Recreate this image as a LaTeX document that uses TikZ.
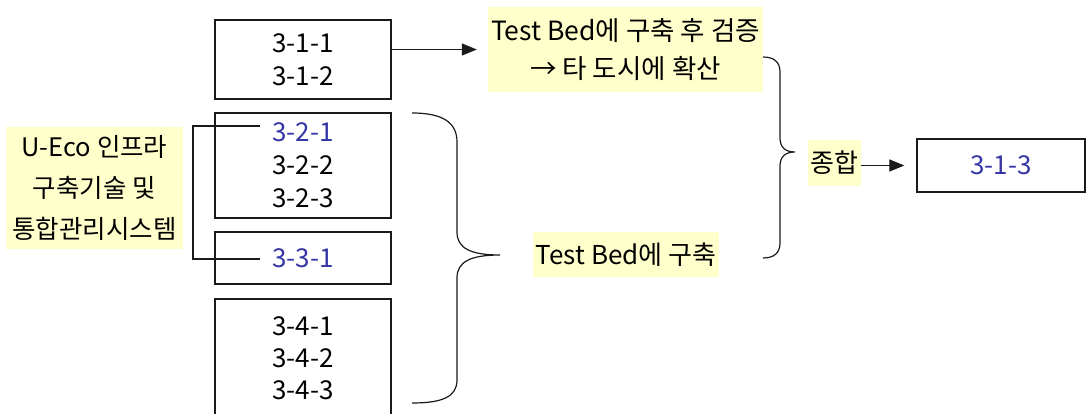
\documentclass[tikz,border=0pt]{standalone}
\usepackage{fontspec}
\setmainfont{Noto Sans CJK KR}
\usetikzlibrary{arrows.meta}
\definecolor{labyellow}{HTML}{FFFFCC}
\definecolor{numblue}{HTML}{3535A5}
\definecolor{ink}{HTML}{1A1A1A}
\begin{document}
\begin{tikzpicture}[x=1pt,y=-1pt,
  numbox/.style={draw=ink, line width=1.3pt, minimum width=176pt, inner sep=0pt, align=center, font=\fontsize{26}{33}\selectfont},
  yellowlab/.style={fill=labyellow, inner sep=0pt, align=center},
  conn/.style={draw=ink, line width=1.2pt},
  arr/.style={conn, -{Triangle[length=15pt,width=12pt]}}]
\path[use as bounding box, clip] (0,0) rectangle (1087,414);
\fill[white] (0,0) rectangle (1087,414);
% boxes
\node[numbox, minimum height=79pt] (b1) at (303,59.5) {3-1-1\\3-1-2};
\node[numbox, minimum height=105pt] (b2) at (303,165.5) {\textcolor{numblue}{3-2-1}\\3-2-2\\3-2-3};
\node[numbox, minimum height=52pt] (b3) at (303,258) {\textcolor{numblue}{3-3-1}};
\node[numbox, minimum height=131pt] (b4) at (303,364.5) {};
\node[align=center, inner sep=0pt, font=\fontsize{26}{32}\selectfont] (b4t) at (303,358) {3-4-1\\3-4-2\\3-4-3};
\node[numbox, minimum width=168pt, minimum height=53pt, text=numblue] (b313) at (1001,165.5) {3-1-3};
% labels
\node[yellowlab, minimum width=177pt, minimum height=122pt, font=\fontsize{25.5}{41}\selectfont] (left) at (94.5,188) {U-Eco 인프라\\구축기술 및\\통합관리시스템};
\node[yellowlab, minimum width=275pt, minimum height=85pt, font=\fontsize{26.5}{38}\selectfont] (top) at (625.5,49.5) {Test Bed에 구축 후 검증\\→ 타 도시에 확산};
\node[yellowlab, minimum width=186pt, minimum height=45pt, font=\fontsize{26}{30}\selectfont] (mid) at (626,254.5) {Test Bed에 구축};
\node[yellowlab, minimum width=53pt, minimum height=46pt, font=\fontsize{26}{30}\selectfont] (jh) at (834.5,163) {종합};
% connector coordinates
\coordinate (c1) at (260,126);
\coordinate (c2) at (260,259);
\draw[conn] (c1) -- (193,126) -- (193,259) -- (c2);
% arrows
\draw[arr, shorten >=11pt] (b1.east |- top.west) -- (top.west);
\draw[arr, shorten >=12pt] (jh.east |- b313.west) -- (b313.west);
% big brace
\draw[conn] (412,113) .. controls (442,113) and (457,122) .. (457,142) -- (457,232)
  .. controls (457,248) and (470,255) .. (500,255)
  .. controls (470,255) and (457,262) .. (457,278) -- (457,380)
  .. controls (457,397) and (442,403) .. (412,403);
% right brace
\draw[conn] (763,57) .. controls (774,57) and (780,62) .. (780,72) -- (780,138)
  .. controls (780,147) and (785,152) .. (795,152)
  .. controls (785,152) and (780,157) .. (780,166) -- (780,243)
  .. controls (780,253) and (774,258) .. (763,258);
\end{tikzpicture}
\end{document}
